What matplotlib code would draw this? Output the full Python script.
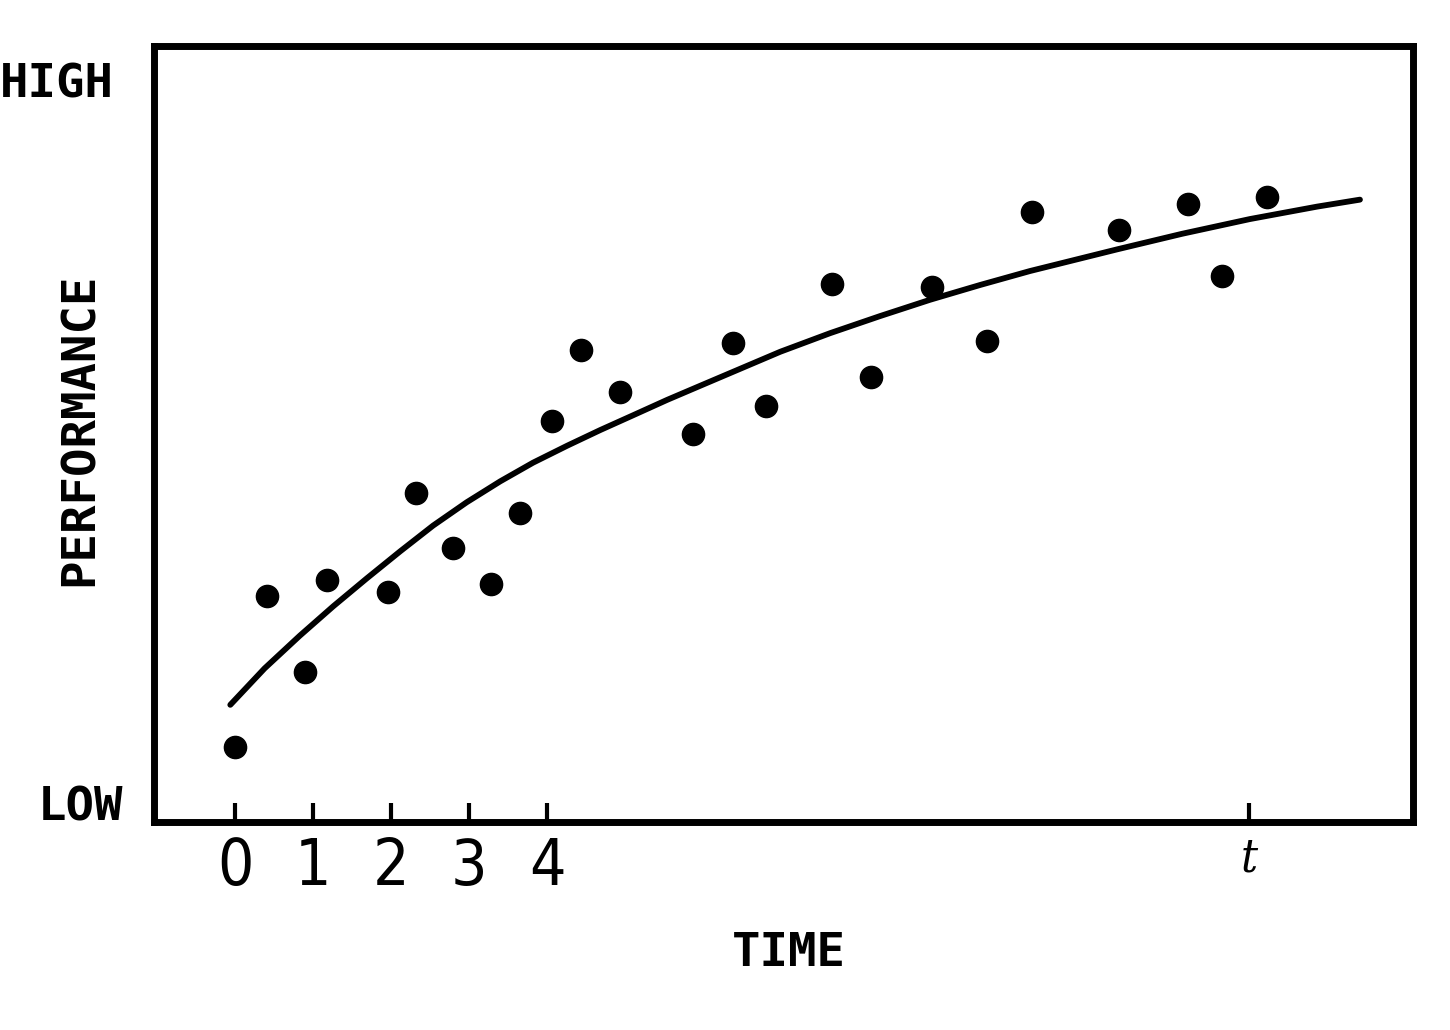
import matplotlib
matplotlib.use("Agg")
import matplotlib.pyplot as plt

# observations (time units, performance 0-100)
obs_time = [0.0, 0.41, 0.90, 1.18, 1.96, 2.32, 2.79, 3.28, 3.65, 4.06, 4.44, 4.94,
            5.87, 6.38, 6.81, 7.65, 8.15, 8.94, 9.64, 10.21, 11.33, 12.22, 12.65, 13.23]
obs_perf = [9.7, 29.1, 19.3, 31.2, 29.6, 42.4, 35.3, 30.7, 39.8, 51.7, 60.8, 55.4,
            50.0, 61.7, 53.6, 69.3, 57.3, 68.9, 62.0, 78.6, 76.3, 79.6, 70.4, 80.5]

# fitted learning curve
curve_time = [-0.06, 0.38, 0.83, 1.26, 1.69, 2.12, 2.54, 2.97, 3.40, 3.82, 4.26, 4.68, 5.10,
              5.54, 5.96, 6.99, 7.63, 8.27, 8.91, 9.55, 10.19, 10.83, 11.31, 12.14, 13.01,
              13.87, 14.42]
curve_perf = [15.1, 19.8, 24.0, 27.8, 31.4, 34.9, 38.2, 41.2, 43.9, 46.3, 48.5, 50.5, 52.4,
              54.4, 56.2, 60.6, 63.0, 65.2, 67.3, 69.2, 71.0, 72.6, 73.8, 75.8, 77.7,
              79.3, 80.2]

tick_pos = [0, 1, 2, 3, 4, 13]
tick_lbl = ["0", "1", "2", "3", "4", "t"]

W, H = 1450, 1030
fig = plt.figure(figsize=(W / 100, H / 100), dpi=100)
ax = fig.add_axes([154 / W, 1 - 822 / H, (1413 - 154) / W, (822 - 46) / H])

ax.plot(curve_time, curve_perf, color="black", lw=4.2,
        solid_capstyle="round", solid_joinstyle="round")
ax.plot(obs_time, obs_perf, "o", color="black", ms=16)

ax.set_xlim(-1.038, 15.10)
ax.set_ylim(0, 100)

for s in ax.spines.values():
    s.set_linewidth(5)

ax.set_yticks([])
ax.set_xticks(tick_pos)
ax.set_xticklabels(tick_lbl, fontsize=46, family="DejaVu Sans", fontstretch="condensed")
ax.tick_params(axis="x", direction="in", length=14, width=3, pad=10)
tl = ax.get_xticklabels()[-1]
tl.set_family("DejaVu Serif")
tl.set_style("italic")
tl.set_fontsize(34)

mono = dict(family="DejaVu Sans Mono", fontweight="bold", fontsize=34)
fig.text(0 / W, 1 - 85 / H, "HIGH", ha="left", va="center", **mono)
fig.text(38 / W, 1 - 808 / H, "LOW", ha="left", va="center", **mono)
fig.text(80 / W, 1 - 429 / H, "PERFORMANCE", ha="center", va="center", rotation=90, **mono)
fig.text(789 / W, 1 - 953 / H, "TIME", ha="center", va="center", **mono)

fig.savefig("out.png", dpi=100)
